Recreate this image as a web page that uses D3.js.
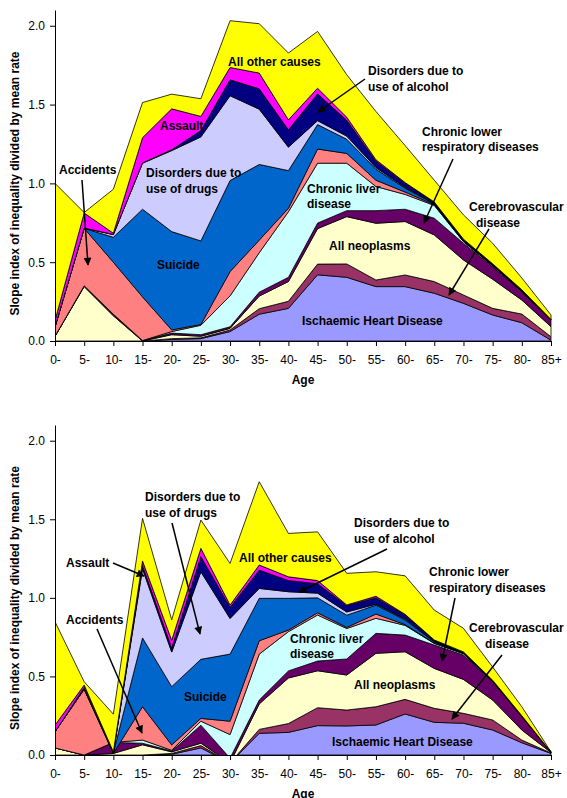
<!DOCTYPE html>
<html>
<head>
<meta charset="utf-8">
<script src="https://cdn.jsdelivr.net/npm/d3@7"></script>
<style>
  body { margin: 0; background: #fff; }
  svg { display: block; font-family: "Liberation Sans", Arial, sans-serif; }
</style>
</head>
<body>
<div id="chart"></div>
<script>
// categories and series (bottom of stack first)
const ages = ["0-", "5-", "10-", "15-", "20-", "25-", "30-", "35-", "40-", "45-",
    "50-", "55-", "60-", "65-", "70-", "75-", "80-", "85+"];
const causes = ["ihd", "cerebro", "neoplasms", "clrd", "liver", "accidents",
    "suicide", "drugs", "alcohol", "assault", "other"];
const colours = ["#9999FF", "#993366", "#FFFFCC", "#660066", "#CCFFFF", "#FF8080",
    "#0066CC", "#CCCCFF", "#000080", "#FF00FF", "#FFFF00"];
const yTicks = [0, 0.5, 1.0, 1.5, 2.0];

// upper panel
const ihd1       = [0, 0, 0, 0, 0.01, 0.015, 0.06, 0.17, 0.207, 0.42, 0.404, 0.345, 0.345, 0.303, 0.239, 0.165, 0.116, 0.005];
const cerebro1   = [0, 0, 0, 0, 0.005, 0.005, 0.01, 0.035, 0.045, 0.068, 0.085, 0.042, 0.074, 0.074, 0.053, 0.042, 0.055, 0.022];
const neoplasms1 = [0.03, 0.345, 0.16, 0, 0.025, 0.01, 0.01, 0.08, 0.125, 0.225, 0.30, 0.36, 0.339, 0.296, 0.222, 0.185, 0.089, 0.064];
const clrd1      = [0, 0.005, 0.01, 0.003, 0.01, 0.01, 0.01, 0.025, 0.027, 0.035, 0.038, 0.08, 0.078, 0.106, 0.106, 0.08, 0.05, 0.042];
const liver1     = [0, 0, 0, 0, 0.01, 0.06, 0.196, 0.25, 0.416, 0.38, 0.301, 0.153, 0.094, 0.081, 0.01, 0.006, 0.005, 0.002];
const accidents1 = [0.06, 0.365, 0.33, 0.277, 0.01, 0.005, 0.154, 0.08, 0.022, 0.09, 0.062, 0.04, 0.015, 0.005, 0.002, 0.002, 0.001, 0];
const suicide1   = [0, 0, 0.158, 0.556, 0.624, 0.53, 0.578, 0.48, 0.239, 0.155, 0.09, 0.07, 0.025, 0.005, 0.003, 0.002, 0.001, 0];
const drugs1     = [0, 0.002, 0.017, 0.292, 0.514, 0.66, 0.538, 0.351, 0.149, 0.025, 0.02, 0.01, 0.005, 0.002, 0.001, 0.001, 0.001, 0];
const alcohol1   = [0, 0, 0.001, 0.002, 0.005, 0.04, 0.101, 0.129, 0.11, 0.17, 0.10, 0.04, 0.025, 0.008, 0.009, 0.007, 0.007, 0.002];
const assault1   = [0.04, 0.095, 0.008, 0.16, 0.26, 0.09, 0.078, 0.10, 0.063, 0.036, 0.02, 0.01, 0.005, 0.002, 0.001, 0, 0, 0];
const other1     = [0.87, 0.003, 0.279, 0.223, 0.093, 0.112, 0.297, 0.313, 0.424, 0.36, 0.269, 0.306, 0.235, 0.138, 0.154, 0.13, 0.075, 0.028];

// lower panel
const ihd2       = [0, 0, 0, 0, 0.005, 0.045, -0.05, 0.138, 0.144, 0.187, 0.185, 0.191, 0.261, 0.208, 0.202, 0.159, 0.078, 0.01];
const cerebro2   = [0, 0, 0, 0, 0.005, 0.015, 0, 0.025, 0.056, 0.114, 0.101, 0.116, 0.093, 0.089, 0.063, 0.064, 0.017, 0.003];
const neoplasms2 = [0.045, 0, 0.01, 0.065, 0.01, 0.015, 0, 0.162, 0.29, 0.235, 0.223, 0.34, 0.303, 0.254, 0.216, 0.127, 0.064, 0.003];
const clrd2      = [0, 0, 0.07, 0.01, 0.005, 0.115, 0.03, 0.025, 0.045, 0.062, 0.102, 0.127, 0.106, 0.149, 0.155, 0.116, 0.085, 0.002];
const liver2     = [0, 0, 0, 0.02, 0.005, 0.025, 0.15, 0.292, 0.25, 0.293, 0.194, 0.096, 0.062, 0.01, 0.009, 0.004, 0.002, 0];
const accidents2 = [0.103, 0.418, -0.07, 0.212, 0.034, 0.018, 0.085, 0.085, 0.01, 0.014, 0.007, 0.027, 0.005, 0.002, 0.001, 0.001, 0.001, 0];
const suicide2   = [0, 0.002, 0.005, 0.438, 0.371, 0.376, 0.427, 0.27, 0.202, 0.095, 0.078, 0.057, 0.029, 0.008, 0.002, 0.001, 0.001, 0];
const drugs2     = [0, 0.005, 0, 0.44, 0.22, 0.557, 0.227, 0.063, 0.042, 0.03, 0.02, 0.006, 0.006, 0.002, 0.001, 0.001, 0, 0];
const alcohol2   = [0, 0.005, 0, 0.02, 0.025, 0.096, 0.071, 0.117, 0.071, 0.06, 0.04, 0.04, 0.025, 0.008, 0.006, 0.002, 0.002, 0.001];
const assault2   = [0.042, 0.015, 0.005, 0.03, 0.05, 0.053, 0.014, 0.032, 0.024, 0.02, 0.005, 0.01, 0.005, 0.002, 0.001, 0.001, 0, 0];
const other2     = [0.658, 0.021, 0.24, 0.271, 0.13, 0.18, 0.265, 0.53, 0.276, 0.31, 0.201, 0.156, 0.245, 0.19, 0.15, 0.084, 0.057, 0.001];

const width = 567, height = 798;
const left = 55, right = 551;

function buildRows(series) {
    return ages.map((age, i) => {
        let row = { age: age };
        causes.forEach((c, k) => row[c] = series[k][i]);
        return row;
    });
}

const svg = d3.select("#chart")
    .append("svg")
    .attr("width", width)
    .attr("height", height);

svg.append("defs").append("marker")
    .attr("id", "arrow")
    .attr("viewBox", "0 0 10 10")
    .attr("refX", 9)
    .attr("refY", 5)
    .attr("markerUnits", "userSpaceOnUse")
    .attr("markerWidth", 9)
    .attr("markerHeight", 8)
    .attr("orient", "auto")
    .append("path")
        .attr("d", "M0,0 L10,5 L0,10 z")
        .attr("fill", "#000");

// labels: [text, x, y] with y at the middle of the line; arrows: [x1, y1, x2, y2]
const labels1 = [
    ["All other causes", 228, 62],
    ["Disorders due to", 368, 71], ["use of alcohol", 368, 87],
    ["Assault", 160, 126],
    ["Accidents", 59, 170],
    ["Disorders due to", 146, 173], ["use of drugs", 146, 189],
    ["Suicide", 157, 265],
    ["Chronic lower", 422, 132], ["respiratory diseases", 422, 147],
    ["Chronic liver", 307, 189], ["disease", 307, 204],
    ["Cerebrovascular", 469, 207], ["disease", 476, 223],
    ["All neoplasms", 329, 246],
    ["Ischaemic Heart Disease", 302, 321]
];
const arrows1 = [
    [365, 79, 318, 112],
    [82, 180, 88, 265],
    [453, 159, 424, 223],
    [489, 229, 449, 295]
];
const labels2 = [
    ["Disorders due to", 145, 497], ["use of drugs", 145, 513],
    ["Assault", 66, 563],
    ["Accidents", 66, 620],
    ["All other causes", 239, 558],
    ["Disorders due to", 354, 523], ["use of alcohol", 354, 539],
    ["Chronic lower", 429, 572], ["respiratory diseases", 429, 588],
    ["Chronic liver", 290, 639], ["disease", 290, 654],
    ["Suicide", 184, 697],
    ["Cerebrovascular", 469, 628], ["disease", 485, 644],
    ["All neoplasms", 354, 685],
    ["Ischaemic Heart Disease", 332, 742]
];
const arrows2 = [
    [172, 523, 200, 634],
    [113, 563, 144, 576],
    [97, 629, 142, 733],
    [387, 549, 299, 592],
    [455, 598, 442, 661],
    [502, 655, 452, 719]
];

function drawPanel(series, top, bottom, labels, arrows, id) {
    const rows = buildRows(series);
    const stacked = d3.stack().keys(causes)(rows);

    const x = d3.scalePoint().domain(ages).range([left, right]);
    const y = d3.scaleLinear().domain([0, 2.1]).range([bottom, top]);

    svg.append("clipPath")
        .attr("id", id)
        .append("rect")
            .attr("x", left)
            .attr("y", top)
            .attr("width", right - left + 1)
            .attr("height", bottom - top);

    const area = d3.area()
        .x(d => x(d.data.age))
        .y0(d => y(d[0]))
        .y1(d => y(d[1]));

    svg.append("g")
        .attr("clip-path", `url(#${id})`)
        .selectAll("path")
        .data(stacked)
        .join("path")
            .attr("d", area)
            .attr("fill", (d, i) => colours[i])
            .attr("stroke", "#000")
            .attr("stroke-width", 0.8)
            .attr("stroke-linejoin", "round");

    // axes
    const yAxis = svg.append("g")
        .attr("transform", `translate(${left}, 0)`)
        .call(d3.axisLeft(y).tickValues(yTicks).tickFormat(d3.format(".1f"))
            .tickSize(5).tickSizeOuter(0).tickPadding(5));
    const xAxis = svg.append("g")
        .attr("transform", `translate(0, ${bottom})`)
        .call(d3.axisBottom(x).tickSize(5).tickSizeOuter(0).tickPadding(9));

    for (let ax of [xAxis, yAxis]) {
        ax.selectAll("text")
            .attr("font-size", "12px")
            .attr("font-family", "Liberation Sans, Arial, sans-serif")
            .attr("fill", "#000");
        ax.selectAll("line, path").attr("stroke", "#000");
    }

    svg.append("text")
        .attr("x", (left + right) / 2)
        .attr("y", bottom + 43)
        .attr("text-anchor", "middle")
        .attr("font-size", "12px")
        .attr("font-weight", "bold")
        .text("Age");

    svg.append("text")
        .attr("transform", `translate(19, ${(top + bottom) / 2 + 8}) rotate(-90)`)
        .attr("text-anchor", "middle")
        .attr("font-size", "12px")
        .attr("font-weight", "bold")
        .text("Slope index of inequality divided by mean rate");

    // annotations
    svg.append("g")
        .selectAll("text")
        .data(labels)
        .join("text")
            .attr("x", d => d[1])
            .attr("y", d => d[2] + 4)
            .attr("font-size", "12px")
            .attr("font-weight", "bold")
            .attr("fill", "#000")
            .text(d => d[0]);

    svg.append("g")
        .selectAll("line")
        .data(arrows)
        .join("line")
            .attr("x1", d => d[0])
            .attr("y1", d => d[1])
            .attr("x2", d => d[2])
            .attr("y2", d => d[3])
            .attr("stroke", "#000")
            .attr("stroke-width", 1.5)
            .attr("marker-end", "url(#arrow)");
}

drawPanel([ihd1, cerebro1, neoplasms1, clrd1, liver1, accidents1, suicide1, drugs1, alcohol1, assault1, other1],
    10, 341, labels1, arrows1, "clip-top");
drawPanel([ihd2, cerebro2, neoplasms2, clrd2, liver2, accidents2, suicide2, drugs2, alcohol2, assault2, other2],
    425, 755, labels2, arrows2, "clip-bottom");
</script>
</body>
</html>
